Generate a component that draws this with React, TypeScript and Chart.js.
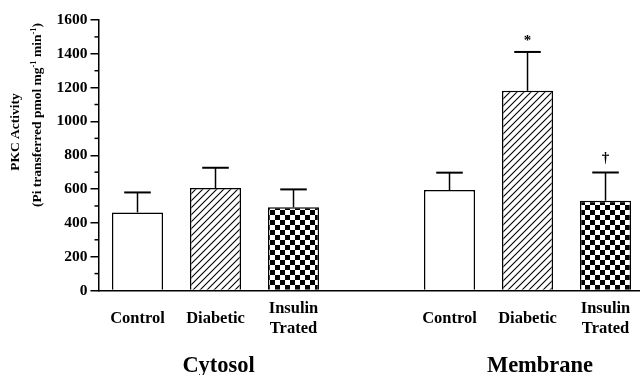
import React, { useEffect, useRef } from "react";
import { Chart, registerables } from "chart.js";

Chart.register(...registerables);

// ---- data ----
const BAR_LABELS: (string | string[])[] = ["Control", "Diabetic", ["Insulin", "Trated"], "Control", "Diabetic", ["Insulin", "Trated"]];
const BAR_POS = [0, 1, 2, 4, 5, 6];
const MEANS = [462, 606, 492, 594, 1181, 531];
const SEM = [118, 120, 106, 103, 230, 167];
const MARKS = ["", "", "", "", "*", "†"];
const FILLS = ["plain", "hatch", "checker", "plain", "hatch", "checker"];
const GROUPS = ["Cytosol", "Membrane"];
const GROUP_POS = [1.04, 5.16];
const Y_MIN = 0;
const Y_MAX = 1600;
const Y_STEP = 200;
const Y_TITLE_1 = "PKC Activity";
const Y_TITLE_2 = [
  { t: "(Pi transferred pmol mg", sup: false },
  { t: "-1", sup: true },
  { t: " min", sup: false },
  { t: "-1", sup: true },
  { t: ")", sup: false },
];

const SERIF = '"Liberation Serif", "Times New Roman", serif';

function makeHatch(): CanvasPattern | string {
  const s = 7;
  const c = document.createElement("canvas");
  c.width = s;
  c.height = s;
  const g = c.getContext("2d");
  if (!g) return "#fff";
  g.fillStyle = "#fff";
  g.fillRect(0, 0, s, s);
  g.strokeStyle = "#000";
  g.lineWidth = 1.1;
  g.beginPath();
  g.moveTo(-1, s + 1);
  g.lineTo(s + 1, -1);
  g.moveTo(-1, 1);
  g.lineTo(1, -1);
  g.moveTo(s - 1, s + 1);
  g.lineTo(s + 1, s - 1);
  g.stroke();
  return g.createPattern(c, "repeat") as CanvasPattern;
}

function makeChecker(): CanvasPattern | string {
  const q = 5;
  const c = document.createElement("canvas");
  c.width = q * 2;
  c.height = q * 2;
  const g = c.getContext("2d");
  if (!g) return "#000";
  g.fillStyle = "#fff";
  g.fillRect(0, 0, q * 2, q * 2);
  g.fillStyle = "#000";
  g.fillRect(0, 0, q, q);
  g.fillRect(q, q, q, q);
  return g.createPattern(c, "repeat") as CanvasPattern;
}

const decorPlugin = {
  id: "decor",
  afterDatasetsDraw(chart: any) {
    const ctx = chart.ctx as CanvasRenderingContext2D;
    const y = chart.scales.y;
    const meta = chart.getDatasetMeta(0);
    ctx.save();
    ctx.strokeStyle = "#000";
    ctx.fillStyle = "#000";
    meta.data.forEach((el: any, i: number) => {
      const top = y.getPixelForValue(MEANS[i] + SEM[i]);
      ctx.lineWidth = 1.5;
      ctx.beginPath();
      ctx.moveTo(el.x, el.y);
      ctx.lineTo(el.x, top);
      ctx.stroke();
      const half = el.width * 0.26;
      ctx.lineWidth = 2;
      ctx.beginPath();
      ctx.moveTo(el.x - half, top);
      ctx.lineTo(el.x + half, top);
      ctx.stroke();
      if (MARKS[i]) {
        ctx.font = `bold 15px ${SERIF}`;
        ctx.textAlign = "center";
        ctx.textBaseline = "alphabetic";
        const off = MARKS[i] === "*" ? 7 : 10;
        ctx.fillText(MARKS[i], el.x, top - off);
      }
    });
    ctx.restore();
  },
  afterDraw(chart: any) {
    const ctx = chart.ctx as CanvasRenderingContext2D;
    const x = chart.scales.x;
    const y = chart.scales.y;
    ctx.save();
    ctx.strokeStyle = "#000";
    ctx.fillStyle = "#000";
    // minor ticks
    ctx.lineWidth = 1.5;
    for (let v = Y_MIN + Y_STEP / 2; v < Y_MAX; v += Y_STEP) {
      const py = y.getPixelForValue(v);
      ctx.beginPath();
      ctx.moveTo(y.right - 4, py);
      ctx.lineTo(y.right, py);
      ctx.stroke();
    }
    // group labels
    ctx.font = `bold 22.5px ${SERIF}`;
    ctx.textAlign = "center";
    ctx.textBaseline = "alphabetic";
    GROUPS.forEach((g, i) => {
      ctx.fillText(g, x.getPixelForValue(GROUP_POS[i]), 372);
    });
    // y title
    const mainFont = `bold 13.5px ${SERIF}`;
    const supFont = `bold 8.5px ${SERIF}`;
    ctx.font = mainFont;
    ctx.textBaseline = "middle";
    ctx.save();
    ctx.translate(15.5, 132);
    ctx.rotate(-Math.PI / 2);
    ctx.textAlign = "center";
    ctx.fillText(Y_TITLE_1, 0, 0);
    ctx.restore();

    ctx.save();
    ctx.translate(37.5, 115);
    ctx.rotate(-Math.PI / 2);
    ctx.textAlign = "left";
    let total = 0;
    const widths = Y_TITLE_2.map((s) => {
      ctx.font = s.sup ? supFont : mainFont;
      const w = ctx.measureText(s.t).width;
      total += w;
      return w;
    });
    let cx = -total / 2;
    Y_TITLE_2.forEach((s, i) => {
      ctx.font = s.sup ? supFont : mainFont;
      ctx.fillText(s.t, cx, s.sup ? -4 : 0);
      cx += widths[i];
    });
    ctx.restore();
    ctx.restore();
  },
};

export default function App() {
  const ref = useRef<HTMLCanvasElement | null>(null);
  useEffect(() => {
    if (!ref.current) return;
    const hatch = makeHatch();
    const checker = makeChecker();
    const bg = FILLS.map((f) => (f === "hatch" ? hatch : f === "checker" ? checker : "#fff"));
    const chart = new Chart(ref.current, {
      type: "bar",
      data: {
        datasets: [
          {
            data: BAR_POS.map((p, i) => ({ x: p, y: MEANS[i] })),
            backgroundColor: bg as any,
            borderColor: "#000",
            borderWidth: 1.5,
            categoryPercentage: 1,
            barPercentage: 0.655,
          },
        ],
      },
      options: {
        responsive: false,
        animation: false,
        events: [],
        layout: { padding: { top: 20, right: 0, bottom: 0, left: 0 } },
        plugins: {
          legend: { display: false },
          tooltip: { enabled: false },
          title: { display: false },
        },
        scales: {
          x: {
            type: "linear",
            min: -0.5,
            max: 6.442,
            offset: false,
            grid: { display: false, drawTicks: false },
            border: { display: true, color: "#000", width: 1.5 },
            afterBuildTicks: (scale: any) => {
              scale.ticks = BAR_POS.map((v) => ({ value: v }));
            },
            afterFit: (scale: any) => {
              scale.height = 84.5;
              scale.paddingLeft = 0;
              scale.paddingRight = 0;
            },
            ticks: {
              autoSkip: false,
              maxRotation: 0,
              minRotation: 0,
              padding: 18,
              crossAlign: "center",
              color: "#000",
              font: { family: SERIF, size: 16.5, weight: "bold", lineHeight: 1.2 },
              callback: (value: any) => {
                const idx = BAR_POS.indexOf(Number(value));
                return idx >= 0 ? (BAR_LABELS[idx] as any) : "";
              },
            },
          },
          y: {
            min: Y_MIN,
            max: Y_MAX,
            grid: { drawOnChartArea: false, drawTicks: true, tickLength: 8, color: "#000", lineWidth: 1.5 },
            border: { display: true, color: "#000", width: 1.5 },
            afterFit: (scale: any) => {
              scale.width = 98.5;
            },
            ticks: {
              stepSize: Y_STEP,
              padding: 3,
              color: "#000",
              font: { family: SERIF, size: 15.5, weight: "bold" },
              callback: (value: any) => String(value),
            },
          },
        },
      },
      plugins: [decorPlugin],
    });
    return () => chart.destroy();
  }, []);
  return (
    <div style={{ position: "absolute", left: 0, top: 0, width: 640, height: 375, background: "#fff", overflow: "hidden" }}>
      <canvas ref={ref} width={640} height={375} style={{ display: "block" }} />
    </div>
  );
}
